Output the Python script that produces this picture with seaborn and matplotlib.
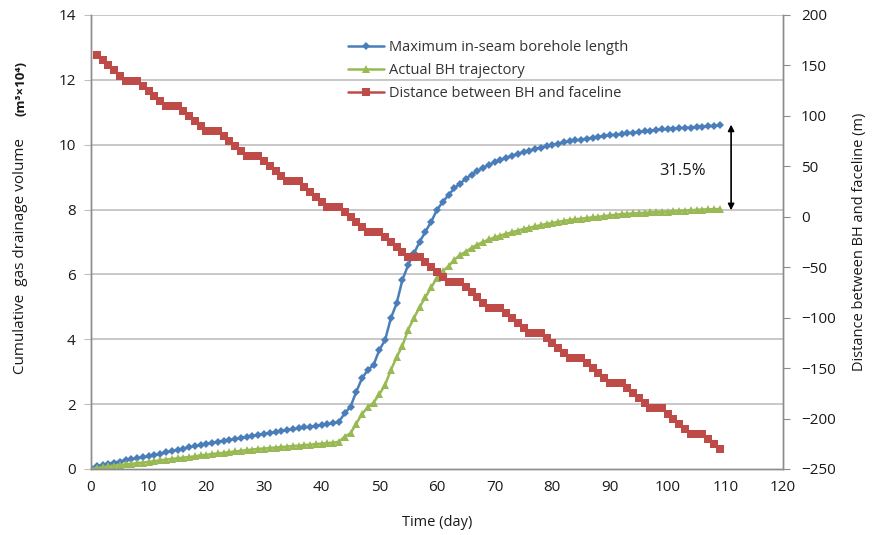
import numpy as np
import pandas as pd
import matplotlib
matplotlib.use("Agg")
import matplotlib.pyplot as plt
import seaborn as sns

# ---------------- data ----------------
days = list(range(0, 110))
max_borehole = [
    0.02, 0.08, 0.12, 0.16, 0.20, 0.23, 0.27, 0.30, 0.33, 0.36,
    0.39, 0.43, 0.47, 0.51, 0.55, 0.59, 0.63, 0.67, 0.71, 0.75,
    0.78, 0.81, 0.84, 0.87, 0.90, 0.93, 0.96, 0.99, 1.02, 1.05,
    1.08, 1.11, 1.14, 1.17, 1.20, 1.22, 1.25, 1.28, 1.30, 1.33,
    1.36, 1.38, 1.41, 1.46, 1.72, 1.92, 2.38, 2.80, 3.05, 3.21,
    3.67, 3.98, 4.65, 5.11, 5.83, 6.29, 6.65, 7.01, 7.32, 7.63,
    7.99, 8.24, 8.45, 8.66, 8.80, 8.95, 9.08, 9.19, 9.29, 9.38,
    9.46, 9.53, 9.60, 9.66, 9.72, 9.77, 9.82, 9.87, 9.91, 9.95,
    9.99, 10.03, 10.07, 10.10, 10.13, 10.16, 10.19, 10.22, 10.25, 10.27,
    10.29, 10.31, 10.33, 10.35, 10.37, 10.39, 10.41, 10.43, 10.45, 10.47,
    10.48, 10.50, 10.51, 10.52, 10.53, 10.55, 10.56, 10.57, 10.58, 10.60,
]
actual_bh = [
    0.00, 0.03, 0.05, 0.08, 0.10, 0.12, 0.14, 0.16, 0.18, 0.20,
    0.22, 0.24, 0.27, 0.29, 0.31, 0.33, 0.35, 0.37, 0.39, 0.42,
    0.44, 0.46, 0.48, 0.50, 0.52, 0.54, 0.56, 0.58, 0.60, 0.62,
    0.63, 0.65, 0.66, 0.68, 0.69, 0.71, 0.72, 0.74, 0.75, 0.77,
    0.78, 0.80, 0.81, 0.84, 1.00, 1.10, 1.40, 1.70, 1.90, 2.05,
    2.30, 2.60, 3.05, 3.45, 3.80, 4.30, 4.65, 5.00, 5.30, 5.60,
    5.90, 6.10, 6.25, 6.45, 6.60, 6.70, 6.82, 6.92, 7.00, 7.08,
    7.14, 7.20, 7.25, 7.30, 7.35, 7.40, 7.44, 7.48, 7.52, 7.56,
    7.59, 7.62, 7.65, 7.68, 7.70, 7.72, 7.74, 7.76, 7.78, 7.80,
    7.82, 7.84, 7.86, 7.87, 7.88, 7.89, 7.90, 7.91, 7.92, 7.93,
    7.94, 7.95, 7.96, 7.97, 7.98, 7.99, 8.00, 8.01, 8.01, 8.02,
]
dist_days = list(range(1, 110))
distance = [
    160, 155, 150, 145, 140, 135, 135, 135, 130, 125,
    120, 115, 110, 110, 110, 105, 100, 95, 90, 85,
    85, 85, 80, 75, 70, 65, 60, 60, 60, 55,
    50, 45, 40, 35, 35, 35, 30, 25, 20, 15,
    10, 10, 10, 5, 0, -5, -10, -15, -15, -15,
    -20, -25, -30, -35, -40, -40, -40, -45, -50, -55,
    -60, -65, -65, -65, -70, -75, -80, -85, -90, -90,
    -90, -95, -100, -105, -110, -115, -115, -115, -120, -125,
    -130, -135, -140, -140, -140, -145, -150, -155, -160, -165,
    -165, -165, -170, -175, -180, -185, -190, -190, -190, -195,
    -200, -205, -210, -215, -215, -215, -220, -225, -230,
]
x_ticks = list(range(0, 121, 10))
left_ticks = list(range(0, 15, 2))
right_ticks = list(range(-250, 201, 50))
gap_label = "31.5%"

labels = ["Maximum in-seam borehole length", "Actual BH trajectory",
          "Distance between BH and faceline"]

df_main = pd.DataFrame({"day": days, "max": max_borehole, "act": actual_bh})
df_dist = pd.DataFrame({"day": dist_days, "dist": distance})

# ---------------- style ----------------
sns.set_style("white")
plt.rcParams["font.family"] = ["Open Sans", "DejaVu Sans"]

BLUE = "#4A7EBB"
GREEN = "#98B954"
RED = "#BE4B48"
SPINE = "#8C8C8C"
GRID = "#BFBFBF"
TXT = "#1a1a1a"

fig = plt.figure(figsize=(8.72, 5.35), dpi=100)
W, H = 872, 535
ax = fig.add_axes([91 / W, (H - 469) / H, (783 - 91) / W, (469 - 15) / H])
ax2 = ax.twinx()

sns.lineplot(data=df_main, x="day", y="max", ax=ax, color=BLUE, lw=1.8,
             marker="D", markersize=4.3, markeredgewidth=0, label=labels[0],
             legend=False)
sns.lineplot(data=df_main, x="day", y="act", ax=ax, color=GREEN, lw=1.8,
             marker="^", markersize=5.5, markeredgewidth=0, label=labels[1],
             legend=False)
sns.lineplot(data=df_dist, x="day", y="dist", ax=ax2, color=RED, lw=1.8,
             marker="s", markersize=5.5, markeredgewidth=0, label=labels[2],
             legend=False)

ax.set_xlim(0, 120)
ax.set_ylim(0, 14)
ax2.set_ylim(-250, 200)
ax.set_xticks(x_ticks)
ax.set_yticks(left_ticks)
ax2.set_yticks(right_ticks)

ax.grid(False)
ax2.grid(False)
for v in left_ticks[1:]:
    ax.axhline(v, color=GRID, lw=1.2, zorder=0)
ax.set_axisbelow(True)

for a in (ax, ax2):
    a.spines["top"].set_visible(False)
    for side in ("left", "right", "bottom"):
        a.spines[side].set_color(SPINE)
        a.spines[side].set_linewidth(1.0)

ax.tick_params(axis="y", length=5, color=GRID, labelsize=11, pad=6,
               labelcolor=TXT)
ax.tick_params(axis="x", direction="in", length=5, color=SPINE,
               labelsize=11, pad=8, labelcolor=TXT)
ax2.tick_params(axis="y", length=5, color=SPINE, labelsize=11, pad=8,
                labelcolor=TXT)

ax.set_xlabel("Time (day)", fontsize=10.5, labelpad=14, color=TXT)
ax.set_ylabel("")
ax2.set_ylabel("Distance between BH and faceline (m)", fontsize=10.5,
               labelpad=12, color=TXT)

fig.text(21 / W, 1 - 256 / H, "Cumulative  gas drainage volume",
         rotation=90, ha="center", va="center", fontsize=11, color=TXT)
fig.text(21 / W, 1 - 88 / H, "(m\u00b3\u00d710\u2074)", rotation=90,
         ha="center", va="center", fontsize=9.5, fontweight="bold",
         color=TXT)

# annotation arrow and label
ax.annotate("", xy=(111, 10.62), xytext=(111, 7.98),
            arrowprops=dict(arrowstyle="<|-|>", color="black", lw=1.2,
                            mutation_scale=9, shrinkA=0, shrinkB=0))
ax.text(102.6, 9.2, gap_label, fontsize=12, ha="center", va="center",
        color=TXT)

# legend
h1, l1 = ax.get_legend_handles_labels()
h2, l2 = ax2.get_legend_handles_labels()
leg = ax2.legend(h1 + h2, l1 + l2, loc="upper left",
                 bbox_to_anchor=((342 - 91) / (783 - 91), 1 - (34 - 15) / (469 - 15)),
                 frameon=False, fontsize=10.5, handlelength=2.5,
                 handletextpad=0.3, labelspacing=0.55, borderaxespad=0)
for t in leg.get_texts():
    t.set_color("#333333")

fig.savefig("out.png", dpi=100)
